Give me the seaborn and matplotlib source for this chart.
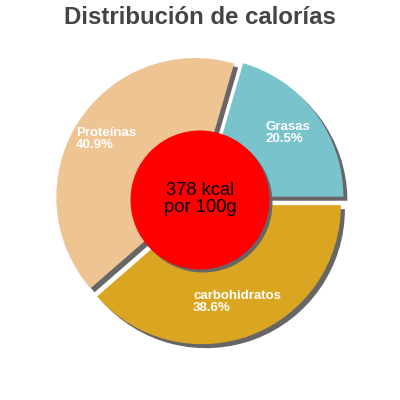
import matplotlib
matplotlib.use("Agg")
import matplotlib.pyplot as plt
import seaborn as sns

# ---- data ----
categories = ["Grasas", "Proteínas", "carbohidratos"]
percentages = [20.5, 40.9, 38.6]
slice_colors = ["#79c4cc", "#edc492", "#daa520"]
title_text = "Distribución de calorías"
center_text = "378 kcal\npor 100g"

sns.set_style("white")
plt.rcParams["font.family"] = ["Liberation Sans", "DejaVu Sans"]

fig = plt.figure(figsize=(4, 4), dpi=100)
ax = fig.add_axes([0, 0, 1, 1])

C = (200, 200)
R = 139
explode = [5.5] * len(percentages)   # data units (pixels)
shadow_off = (4, -4)
shadow_col = "#666666"

# shadow pie
ax.pie(percentages, colors=[shadow_col] * len(percentages), startangle=0,
       counterclock=True, explode=explode, radius=R,
       center=(C[0] + shadow_off[0], C[1] + shadow_off[1]),
       wedgeprops=dict(linewidth=0))
# main pie
ax.pie(percentages, colors=slice_colors, startangle=0, counterclock=True,
       explode=explode, radius=R, center=C, wedgeprops=dict(linewidth=0))

# center disc with shadow
ax.pie([1], colors=[shadow_col], radius=R / 2,
       center=(C[0] + 3, C[1] - 3), wedgeprops=dict(linewidth=0))
ax.pie([1], colors=["#ff0000"], radius=R / 2, center=C,
       wedgeprops=dict(linewidth=0))

ax.set_xlim(0, 400)
ax.set_ylim(0, 400)
ax.set_aspect("equal")
ax.axis("off")

# slice labels (left-middle anchor positions)
label_pos = {"Grasas": (265, 267), "Proteínas": (76, 261), "carbohidratos": (193, 98)}
for cat, pct in zip(categories, percentages):
    x, y = label_pos[cat]
    ax.text(x, y, f"{cat}\n{pct:.1f}%", color="white", fontsize=9.5,
            ha="left", va="center", linespacing=0.92, fontweight="bold")

ax.text(C[0], C[1] + 1, center_text, color="black", fontsize=13.2,
        ha="center", va="center", linespacing=0.95)

ax.text(200, 383, title_text, color="#444444", fontsize=17.3,
        fontweight="bold", ha="center", va="center")

fig.savefig("out.png", dpi=100)
